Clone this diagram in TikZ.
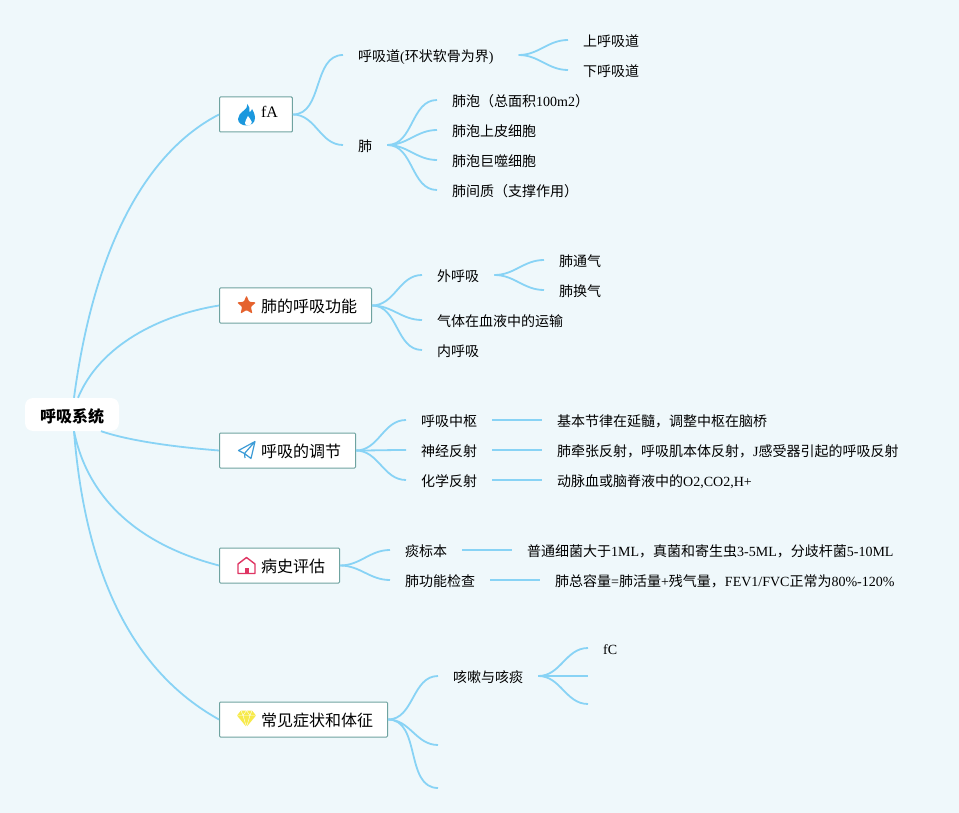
\documentclass[tikz,border=0pt]{standalone}
\usepackage{fontspec}
\setmainfont{Liberation Serif}
\newfontfamily\cjk{Noto Sans CJK SC}
\definecolor{pagebg}{HTML}{EFF8FB}
\definecolor{linkblue}{HTML}{88D3F5}
\definecolor{boxedge}{HTML}{6FA3A0}
\definecolor{flameblue}{HTML}{1B98DE}
\definecolor{starorange}{HTML}{E5622E}
\definecolor{planeblue}{HTML}{3C9BD6}
\definecolor{housered}{HTML}{DF3563}
\definecolor{gemyellow}{HTML}{F7EA4A}
\tikzset{
  rootbox/.style={fill=white,rounded corners=8pt,inner xsep=15pt,inner ysep=0pt,minimum height=33pt,
    text height=15.5pt,text depth=0.5pt,font=\fontsize{16}{19}\selectfont\cjk\bfseries,text=black},
  topicbox/.style={anchor=west,draw=boxedge,line width=1pt,fill=white,rounded corners=1pt,inner xsep=14.5pt,inner ysep=0pt,
    minimum height=35pt,text height=15pt,text depth=1pt,font=\fontsize{16}{19}\selectfont,
    execute at begin node={\hspace*{27pt}}},
  subitem/.style={anchor=west,inner xsep=15pt,inner ysep=0pt,text height=14pt,text depth=1.4pt,
    font=\fontsize{14}{17}\selectfont},
  link/.style={draw=linkblue,line width=1.8pt}
}
\begin{document}
\begin{tikzpicture}[x=1pt,y=-1pt]
  \useasboundingbox[fill=pagebg] (0,0) rectangle (959,813);

  \node[rootbox] (root) at (72,414.5) {呼吸系统};

  \node[topicbox] (fa) at (219,114.5) {\raisebox{4pt}{fA}};
  \node[topicbox] (gongneng) at (219,305.5) {{\cjk 肺的呼吸功能}};
  \node[topicbox] (tiaojie) at (219,450.5) {{\cjk 呼吸的调节}};
  \node[topicbox] (bingshi) at (219,565.5) {{\cjk 病史评估}};
  \node[topicbox] (zhengzhuang) at (219,719.5) {{\cjk 常见症状和体征}};

  % fA
  \node[subitem] (huxidao) at (343,55) {{\cjk 呼吸道}({\cjk 环状软骨为界}){\hspace*{10pt}}};
  \node[subitem] (fei) at (343,145) {{\cjk 肺}};
  \node[subitem] (shang) at (568,40) {{\cjk 上呼吸道}};
  \node[subitem] (xia) at (568,70) {{\cjk 下呼吸道}};
  \node[subitem] (feipao) at (437,100) {{\cjk 肺泡（总面积}100m2{\cjk ）}};
  \node[subitem] (shangpi) at (437,130) {{\cjk 肺泡上皮细胞}};
  \node[subitem] (jushi) at (437,160) {{\cjk 肺泡巨噬细胞}};
  \node[subitem] (jianzhi) at (437,190) {{\cjk 肺间质（支撑作用）}};

  % 肺的呼吸功能
  \node[subitem] (waihuxi) at (422,275) {{\cjk 外呼吸}};
  \node[subitem] (yunshu) at (422,320) {{\cjk 气体在血液中的运输}};
  \node[subitem] (neihuxi) at (422,350) {{\cjk 内呼吸}};
  \node[subitem] (tongqi) at (544,260) {{\cjk 肺通气}};
  \node[subitem] (huanqi) at (544,290) {{\cjk 肺换气}};

  % 呼吸的调节
  \node[subitem] (zhongshu) at (406,420) {{\cjk 呼吸中枢}};
  \node[subitem] (shenjing) at (406,450) {{\cjk 神经反射}};
  \node[subitem] (huaxue) at (406,480) {{\cjk 化学反射}};
  \node[subitem] (zhongshutxt) at (542,420) {{\cjk 基本节律在延髓，调整中枢在脑桥}};
  \node[subitem] (shenjingtxt) at (542,450) {{\cjk 肺牵张反射，呼吸肌本体反射，}J{\cjk 感受器引起的呼吸反射}};
  \node[subitem] (huaxuetxt) at (542,480) {{\cjk 动脉血或脑脊液中的}O2,CO2,H+};

  % 病史评估
  \node[subitem] (tan) at (390,550) {{\cjk 痰标本}};
  \node[subitem] (jiancha) at (390,580) {{\cjk 肺功能检查}};
  \node[subitem] (tantxt) at (512,550) {{\cjk 普通细菌大于}1ML{\cjk ，真菌和寄生虫}3-5ML{\cjk ，分歧杆菌}5-10ML};
  \node[subitem] (jianchatxt) at (540,580) {{\cjk 肺总容量}={\cjk 肺活量}+{\cjk 残气量，}FEV1/FVC{\cjk 正常为}80\%-120\%};

  % 常见症状和体征
  \node[subitem] (kesou) at (438,676) {{\cjk 咳嗽与咳痰}};
  \node[subitem] (fc) at (588,648) {fC};
  \coordinate (endb) at (438,745);
  \coordinate (endc) at (438,788);
  \coordinate (endd) at (588,676);
  \coordinate (ende) at (588,704);

  % 中心主题的连线
  \draw[link] ([xshift=2pt]root.north) .. controls (95,240) and (150,150) .. (fa.west);
  \draw[link] ([xshift=6pt]root.north) .. controls (100,345) and (160,315) .. (gongneng.west);
  \draw[link] ([xshift=29pt]root.south) .. controls (130,441) and (175,447) .. (tiaojie.west);
  \draw[link] ([xshift=2pt]root.south) .. controls (88,500) and (140,545) .. (bingshi.west);
  \draw[link] ([xshift=2pt]root.south) .. controls (85,570) and (130,670) .. (zhengzhuang.west);

  \foreach \a/\b in {fa/huxidao,fa/fei,huxidao/shang,huxidao/xia,fei/feipao,fei/shangpi,fei/jushi,fei/jianzhi,
    gongneng/waihuxi,gongneng/yunshu,gongneng/neihuxi,waihuxi/tongqi,waihuxi/huanqi,
    tiaojie/zhongshu,tiaojie/shenjing,tiaojie/huaxue,bingshi/tan,bingshi/jiancha,
    zhengzhuang/kesou,kesou/fc}{
    \draw[link] (\a.east) to[out=0,in=180] (\b.west);
  }
  \draw[link] (zhengzhuang.east) to[out=0,in=180] (endb);
  \draw[link] (zhengzhuang.east) to[out=0,in=180] (endc);
  \draw[link] (kesou.east) -- (endd);
  \draw[link] (kesou.east) to[out=0,in=180] (ende);

  \foreach \a/\b in {zhongshu/zhongshutxt,shenjing/shenjingtxt,huaxue/huaxuetxt,tan/tantxt,jiancha/jianchatxt}{
    \draw[link] (\a.east) -- (\b.west);
  }

  % 火焰
  \fill[flameblue] (247.5,104) .. controls (248.5,110) and (238,112) .. (238,119)
    .. controls (238,123) and (242,125.5) .. (246.5,125.5) .. controls (251,125.5) and (255,123) .. (255,118)
    .. controls (255,114) and (253,111) .. (252,109) .. controls (251.5,111) and (250.5,112) .. (249.5,112)
    .. controls (250,109) and (249,106) .. (247.5,104) -- cycle;
  \fill[white] (248,116) .. controls (247.5,119) and (244.5,120) .. (245,123)
    .. controls (245.2,124.5) and (246,125.5) .. (248,125.5)
    .. controls (250.5,125.5) and (251.8,124) .. (251.8,122) .. controls (251.8,120) and (249,118.5) .. (248,116) -- cycle;
  % 星
  \fill[starorange,rounded corners=1pt] (246.5,295.5) -- (249.2,301.8) -- (256,302.4) -- (250.9,306.9)
    -- (252.4,313.6) -- (246.5,310.1) -- (240.6,313.6) -- (242.1,306.9) -- (237,302.4) -- (243.8,301.8) -- cycle;
  % 纸飞机
  \draw[planeblue,line width=1.2pt,line join=round] (255,441.5) -- (238.5,450.5) -- (244.5,453.5) -- cycle
    (255,441.5) -- (251,458.5) -- (244.5,453.5) -- (245,458);
  % 房子
  \draw[housered,line width=1.4pt,line join=round] (246.5,557.5) -- (255,564) -- (255,573.5) -- (238,573.5) -- (238,564) -- cycle;
  \fill[housered] (244.5,568) rectangle (248.5,573.5);
  % 钻石
  \fill[gemyellow] (241,710.5) -- (252,710.5) -- (256,715.5) -- (246.5,727) -- (237,715.5) -- cycle;
  \draw[white,line width=0.4pt] (237,715.5) -- (256,715.5) (241,710.5) -- (243,715.5) -- (246.5,727) -- (250,715.5) -- (252,710.5)
    (243,715.5) -- (246.5,710.5) -- (250,715.5);
\end{tikzpicture}
\end{document}
